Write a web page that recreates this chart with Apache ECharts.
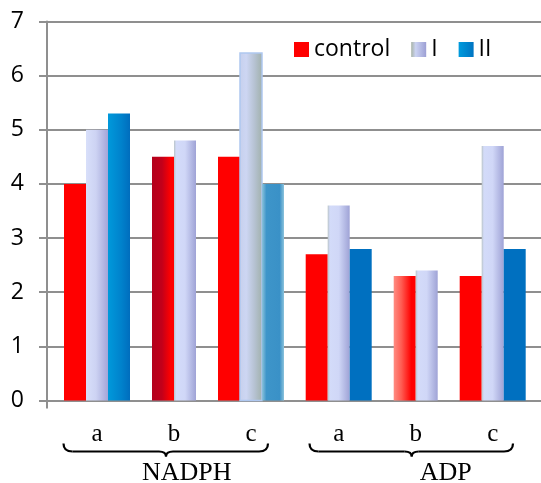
<!DOCTYPE html>
<html>
<head>
<meta charset="utf-8">
<script src="https://cdn.jsdelivr.net/npm/echarts@6/dist/echarts.min.js"></script>
<style>
  html, body { margin: 0; padding: 0; background: #ffffff; }
  #chart { width: 541px; height: 483px; }
</style>
</head>
<body>
<div id="chart"></div>
<script>
// ---------------- data ----------------
const categories = ['a', 'b', 'c'];
const groups = ['NADPH', 'ADP'];
const seriesNames = ['control', 'I', 'II'];
// values in order: NADPH a, b, c, ADP a, b, c
const controlValues = [4.0, 4.5, 4.5, 2.7, 2.3, 2.3];
const seriesIValues = [5.0, 4.8, 6.42, 3.6, 2.4, 4.7];
const seriesIIValues = [5.3, null, 4.0, 2.8, null, 2.8];
const yMin = 0, yMax = 7, yStep = 1;

const allValues = [controlValues, seriesIValues, seriesIIValues];

// ---------------- styles ----------------
const G = echarts.graphic.LinearGradient;
const hGrad = (stops) => new G(0, 0, 1, 0, stops.map(s => ({ offset: s[0], color: s[1] })));

const defaultFill = [
  '#FF0000',
  hGrad([[0, '#B9C4C8'], [0.1, '#D3DBF9'], [0.5, '#D0D7F7'], [1, '#9FA3D6']]),
  '#0070C0'
];
// special fills: key = seriesIndex + '-' + flat category index
const specialFill = {
  '0-1': hGrad([[0, '#B3001C'], [0.45, '#C2001A'], [0.85, '#FF0000'], [1, '#FF0000']]),
  '0-4': hGrad([[0, '#FF8C82'], [0.35, '#FF5C52'], [0.8, '#FF0000'], [1, '#FF0000']]),
  '1-0': hGrad([[0, '#D8DFFA'], [0.45, '#CDD3F3'], [1, '#A3A5D8']]),
  '1-2': hGrad([[0, '#C6D0EC'], [0.3, '#CDD6F3'], [0.65, '#B6C2D2'], [1, '#A0B0AA']]),
  '2-0': hGrad([[0, '#0099DB'], [0.6, '#0082CC'], [1, '#006DBD']]),
  '2-2': hGrad([[0, '#8CC3DC'], [0.2, '#3E95C9'], [0.8, '#3A91C7'], [1, '#8CC3DC']])
};
const specialStroke = { '1-2': '#AFC8F0' };

const barWidth = 22;
const gridTop = 21.5, gridHeight = 379;
const groupGrids = [
  { left: 58.5, width: 231 },
  { left: 300.2, width: 231 }
];
const axisGray = '#8F8F8F';

// ---------------- series ----------------
function makeRender(sIdx, gIdx) {
  return function (params, api) {
    const cat = api.value(0);
    const v = api.value(1);
    if (v == null || isNaN(v)) return;
    const flat = gIdx * categories.length + cat;
    const present = [];
    allValues.forEach((arr, k) => { if (arr[flat] != null) present.push(k); });
    const pos = present.indexOf(sIdx);
    const n = present.length;
    const base = api.coord([cat, 0]);
    const top = api.coord([cat, v]);
    const cx = base[0] + (pos - (n - 1) / 2) * barWidth;
    const key = sIdx + '-' + flat;
    const fill = specialFill[key] || defaultFill[sIdx];
    const style = { fill: fill };
    if (specialStroke[key]) { style.stroke = specialStroke[key]; style.lineWidth = 1.5; }
    return {
      type: 'rect',
      shape: { x: cx - barWidth / 2, y: top[1], width: barWidth, height: base[1] - top[1] },
      style: style
    };
  };
}

const series = [];
groups.forEach((g, gIdx) => {
  seriesNames.forEach((name, sIdx) => {
    series.push({
      type: 'custom',
      name: name,
      xAxisIndex: gIdx + 1,
      yAxisIndex: gIdx + 1,
      renderItem: makeRender(sIdx, gIdx),
      encode: { x: 0, y: 1 },
      itemStyle: { color: sIdx === 0 ? '#FF0000' : (sIdx === 1 ? '#C8CFF2' : '#0070C0') },
      data: categories.map((c, i) => {
        const val = allValues[sIdx][gIdx * categories.length + i];
        return [i, val == null ? '-' : val];
      })
    });
  });
});

// ---------------- braces & group labels (decoration) ----------------
function braceParts(x0, x1, xt, yTop, yLine, yTip) {
  const st = { fill: null, stroke: '#000', lineWidth: 2.2 };
  const q = (a, b, c, d, cx, cy) => ({ type: 'bezierCurve', silent: true, style: st,
    shape: { x1: a, y1: b, x2: c, y2: d, cpx1: cx, cpy1: cy } });
  const l = (a, b, c, d) => ({ type: 'line', silent: true, style: st,
    shape: { x1: a, y1: b, x2: c, y2: d } });
  return [
    q(x0, yTop, x0 + 9, yLine, x0, yLine),
    l(x0 + 9, yLine, xt - 7, yLine),
    q(xt - 7, yLine, xt, yTip, xt, yLine),
    q(xt, yTip, xt + 7, yLine, xt, yLine),
    l(xt + 7, yLine, x1 - 9, yLine),
    q(x1 - 9, yLine, x1, yTop, x1, yLine)
  ];
}
const braces = [
  { x0: 63.5, x1: 268, xt: 166, label: 186.7 },
  { x0: 309.5, x1: 513, xt: 411.7, label: 445.8 }
];
let graphics = [];
braces.forEach((b, i) => {
  graphics = graphics.concat(braceParts(b.x0, b.x1, b.xt, 443.5, 451.5, 456.5));
  graphics.push({
    type: 'text',
    x: b.label, y: 473.5,
    style: {
      text: groups[i], fill: '#000', fontFamily: 'Liberation Serif', fontSize: 26,
      align: 'center', verticalAlign: 'middle'
    },
    silent: true
  });
});

// ---------------- option ----------------
const option = {
  animation: false,
  backgroundColor: '#ffffff',
  legend: {
    left: 294, top: 38, padding: 0,
    itemWidth: 15, itemHeight: 15, itemGap: 21,
    icon: 'rect',
    textStyle: { fontFamily: 'Open Sans', fontSize: 23, color: '#000' },
    data: [
      { name: 'control', itemStyle: { color: '#FF0000' } },
      { name: 'I', itemStyle: { color: hGrad([[0, '#A9B4A8'], [0.3, '#CBD3F2'], [1, '#9C9FD4']]) } },
      { name: 'II', itemStyle: { color: hGrad([[0, '#009BDD'], [1, '#0074C2']]) } }
    ]
  },
  grid: [
    { left: 47, right: 0, top: gridTop, height: gridHeight },
    { left: groupGrids[0].left, width: groupGrids[0].width, top: gridTop, height: gridHeight },
    { left: groupGrids[1].left, width: groupGrids[1].width, top: gridTop, height: gridHeight }
  ],
  xAxis: [
    {
      gridIndex: 0, type: 'value', min: 0, max: 1,
      axisLine: { show: true, lineStyle: { color: axisGray, width: 2 } },
      axisTick: { show: true, length: 8, customValues: [0], lineStyle: { color: axisGray, width: 2 } },
      axisLabel: { show: false },
      splitLine: { show: false }
    },
    {
      gridIndex: 1, type: 'category', data: categories,
      axisLine: { show: false }, axisTick: { show: false },
      axisLabel: { margin: 21.5, fontFamily: 'Liberation Serif', fontSize: 25, color: '#000' }
    },
    {
      gridIndex: 2, type: 'category', data: categories,
      axisLine: { show: false }, axisTick: { show: false },
      axisLabel: { margin: 21.5, fontFamily: 'Liberation Serif', fontSize: 25, color: '#000' }
    }
  ],
  yAxis: [
    {
      gridIndex: 0, type: 'value', min: yMin, max: yMax, interval: yStep,
      axisLine: { show: true, lineStyle: { color: axisGray, width: 2 } },
      axisTick: { show: true, length: 8, lineStyle: { color: axisGray, width: 2 } },
      axisLabel: { margin: 23, fontFamily: 'Open Sans', fontSize: 23, color: '#000' },
      splitLine: { show: true, lineStyle: { color: axisGray, width: 2 } }
    },
    { gridIndex: 1, type: 'value', min: yMin, max: yMax, show: false, splitLine: { show: false } },
    { gridIndex: 2, type: 'value', min: yMin, max: yMax, show: false, splitLine: { show: false } }
  ],
  graphic: graphics,
  series: series
};

const chart = echarts.init(document.getElementById('chart'), null, { renderer: 'canvas' });
chart.setOption(option);
</script>
</body>
</html>
